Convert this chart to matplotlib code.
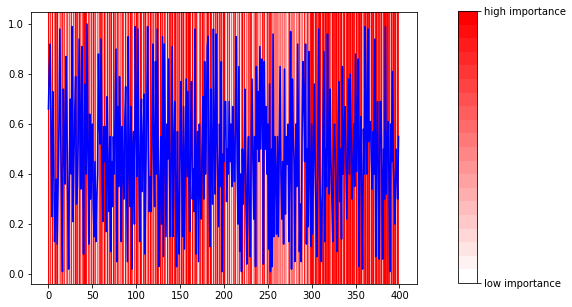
import matplotlib
matplotlib.use('Agg')
import matplotlib.pyplot as plt
import matplotlib.colors as mcolors
import matplotlib.colorbar as mcolorbar
import numpy as np

# line values (index 0..399)
values = [
    0.66, 0.82, 0.92, 0.55, 0.23, 0.73, 0.45, 0.13, 0.30, 0.38, 0.12, 0.35, 0.60, 0.98, 0.55, 0.30, 0.01, 0.74, 0.50, 0.36,
    0.87, 0.60, 0.28, 0.02, 0.48, 0.70, 0.40, 0.99, 0.21, 0.45, 0.65, 0.79, 0.28, 0.35, 0.55, 0.94, 0.60, 0.34, 0.91, 0.45,
    0.08, 0.63, 0.76, 0.40, 1.00, 0.50, 0.12, 0.64, 0.30, 0.39, 0.60, 0.28, 0.15, 0.45, 0.13, 0.30, 0.40, 0.88, 0.60, 0.52,
    0.94, 0.45, 0.21, 0.59, 0.45, 0.59, 0.17, 0.71, 0.40, 0.25, 0.55, 0.09, 0.45, 0.27, 0.55, 0.40, 0.65, 0.90, 0.05, 0.67,
    0.35, 0.79, 0.50, 0.13, 0.59, 0.43, 0.30, 0.61, 0.75, 0.40, 0.05, 0.95, 0.45, 0.27, 0.67, 0.02, 0.50, 0.57, 0.20, 0.99,
    0.60, 0.39, 0.98, 0.45, 0.13, 0.55, 0.70, 0.33, 0.50, 0.72, 0.08, 0.40, 0.65, 0.99, 0.50, 0.25, 0.39, 0.25, 0.55, 0.92,
    0.45, 0.27, 0.85, 0.40, 0.98, 0.50, 0.03, 0.35, 0.55, 0.20, 0.95, 0.07, 0.92, 0.55, 0.15, 0.60, 0.46, 0.86, 0.40, 0.15,
    0.55, 0.91, 0.15, 0.50, 0.69, 0.30, 0.03, 0.57, 0.20, 0.08, 0.50, 0.77, 0.40, 0.15, 0.67, 0.10, 0.45, 0.78, 0.39, 0.73,
    0.40, 0.17, 0.55, 0.77, 0.30, 0.42, 0.25, 0.98, 0.08, 0.45, 0.57, 0.05, 0.60, 0.35, 0.22, 0.50, 0.71, 0.30, 0.85, 0.40,
    0.60, 0.91, 0.95, 0.40, 0.11, 0.74, 0.45, 0.28, 0.98, 0.50, 0.32, 0.96, 0.55, 0.36, 0.19, 0.60, 0.35, 0.85, 0.01, 0.48,
    0.45, 0.69, 0.69, 0.29, 0.50, 0.40, 0.69, 0.45, 0.60, 0.35, 0.67, 0.50, 0.37, 0.60, 0.95, 0.45, 0.20, 0.83, 0.09, 0.40,
    0.01, 0.50, 0.28, 0.45, 0.74, 0.30, 0.04, 0.40, 0.55, 0.20, 0.07, 0.50, 0.78, 0.45, 0.22, 0.55, 0.03, 0.83, 0.50, 0.73,
    0.45, 0.91, 0.50, 0.86, 0.70, 0.04, 0.85, 0.50, 0.67, 0.40, 0.60, 0.10, 0.76, 0.01, 0.50, 0.03, 0.96, 0.15, 0.55, 0.40,
    0.16, 0.55, 0.15, 0.50, 0.83, 0.40, 0.22, 0.45, 0.12, 0.82, 0.24, 0.55, 0.44, 0.60, 0.13, 0.45, 0.97, 0.02, 0.78, 0.55,
    0.44, 0.05, 0.60, 0.35, 0.92, 0.50, 0.09, 0.28, 0.05, 0.55, 0.85, 0.70, 0.45, 0.92, 0.12, 0.50, 0.19, 0.89, 0.40, 0.11,
    0.60, 0.16, 0.45, 0.76, 0.40, 0.25, 0.07, 0.55, 0.98, 0.40, 0.28, 0.05, 0.32, 0.60, 0.89, 0.13, 0.50, 0.35, 0.96, 0.50,
    0.32, 0.74, 0.45, 0.30, 0.13, 0.50, 0.60, 0.45, 0.30, 0.09, 0.55, 0.77, 0.29, 0.50, 0.14, 0.83, 0.40, 0.57, 0.67, 0.45,
    0.22, 0.50, 0.78, 0.40, 0.80, 0.55, 0.30, 0.41, 0.60, 0.35, 0.88, 0.41, 0.60, 0.86, 0.03, 0.50, 0.63, 0.30, 0.02, 0.58,
    0.40, 0.99, 0.58, 0.40, 0.98, 0.53, 0.60, 0.61, 0.45, 0.34, 0.57, 0.40, 0.94, 0.07, 0.50, 0.69, 0.35, 0.06, 0.69, 0.69,
    0.40, 0.06, 0.50, 0.30, 0.99, 0.32, 0.50, 0.61, 0.40, 0.01, 0.60, 0.45, 0.81, 0.43, 0.35, 0.20, 0.50, 0.42, 0.30, 0.55,
]

# importance level per index, 0 (white) .. 9 (full red), estimated from the bands
importance_levels = (
    "93729153979236528471"
    "57296381739758396268"
    "59981763583957159378"
    "86399529386951967386"
    "39548719365839861573"
    "98539681869358839657"
    "39869819589386193868"
    "69389517683969835969"
    "98619368839168397638"
    "59839816838593896839"
    "93158381517368153814"
    "69381537168813583763"
    "35184681385838744555"
    "35445353154315835355"
    "51535383451835385389"
    "98839868989389698389"
    "86398838969689838938"
    "98389698838968989386"
    "89698983989389698869"
    "38969898839869893980"
)
importance = [int(c) / 9 for c in importance_levels]

fig = plt.figure(figsize=(572 / 72, 307 / 72), dpi=72)
ax = fig.add_axes([0.054, 0.075, 0.675, 0.887])
cax = fig.add_axes([0.800, 0.078, 0.034, 0.886])

for i, a in enumerate(importance):
    ax.axvspan(i, i + 1, color='red', alpha=a, lw=0)

ax.plot(np.arange(len(values)), values, color='blue', lw=1.6)
ax.set_xticks([0, 50, 100, 150, 200, 250, 300, 350, 400])

cmap = mcolors.LinearSegmentedColormap.from_list('imp', ['white', 'red'], N=20)
cb = mcolorbar.ColorbarBase(cax, cmap=cmap, norm=mcolors.Normalize(0, 1))
cb.set_ticks([0, 1])
cb.set_ticklabels(['low importance', 'high importance'])

fig.savefig('out.png', dpi=72)
